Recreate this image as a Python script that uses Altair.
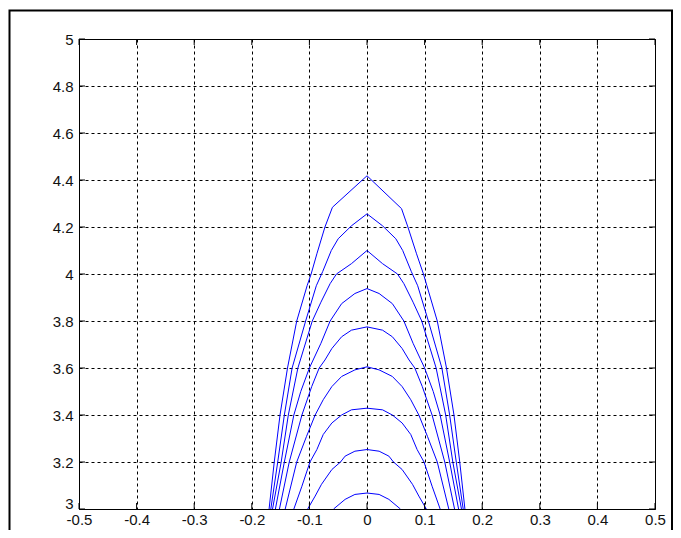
import altair as alt
import pandas as pd

# ---- tick values ----
x_ticks = [-0.5, -0.4, -0.3, -0.2, -0.1, 0.0, 0.1, 0.2, 0.3, 0.4, 0.5]
y_ticks = [3.0, 3.2, 3.4, 3.6, 3.8, 4.0, 4.2, 4.4, 4.6, 4.8, 5.0]

# ---- curves, left to right ----
c1_x = [-0.170, -0.161, -0.151, -0.138, -0.122, -0.104, -0.097, -0.087, -0.073, -0.060, 0.0,
        0.060, 0.071, 0.086, 0.098, 0.104, 0.122, 0.138, 0.151, 0.161, 0.170]
c1_y = [3.0, 3.2, 3.4, 3.6, 3.8, 3.95, 4.0, 4.086, 4.2, 4.284, 4.418,
        4.278, 4.2, 4.086, 4.0, 3.95, 3.8, 3.6, 3.4, 3.2, 3.0]

c2_x = [-0.167, -0.155, -0.1435, -0.130, -0.1065, -0.088, -0.077, -0.062, -0.050, -0.027, 0.0,
        0.027, 0.050, 0.062, 0.077, 0.088, 0.1065, 0.130, 0.1435, 0.155, 0.167]
c2_y = [3.0, 3.2, 3.4, 3.6, 3.8, 3.95, 4.01, 4.10, 4.15, 4.205, 4.256,
        4.205, 4.15, 4.10, 4.01, 3.95, 3.8, 3.6, 3.4, 3.2, 3.0]

c3_x = [-0.164, -0.149, -0.1366, -0.120, -0.095, -0.080, -0.064, -0.053, -0.027, 0.0,
        0.027, 0.053, 0.064, 0.080, 0.095, 0.120, 0.1366, 0.149, 0.164]
c3_y = [3.0, 3.2, 3.4, 3.6, 3.8, 3.88, 3.959, 4.0, 4.044, 4.10,
        4.044, 4.0, 3.959, 3.88, 3.8, 3.6, 3.4, 3.2, 3.0]

c4_x = [-0.159, -0.1435, -0.127, -0.115, -0.100, -0.080, -0.064, -0.044, -0.021, 0.0,
        0.021, 0.044, 0.064, 0.080, 0.100, 0.115, 0.127, 0.1435, 0.159]
c4_y = [3.0, 3.2, 3.4, 3.5, 3.6, 3.705, 3.8, 3.874, 3.917, 3.938,
        3.917, 3.874, 3.8, 3.705, 3.6, 3.5, 3.4, 3.2, 3.0]

c5_x = [-0.152, -0.135, -0.113, -0.096, -0.083, -0.073, -0.061, -0.044, -0.027, 0.0,
        0.027, 0.044, 0.061, 0.073, 0.083, 0.096, 0.113, 0.135, 0.152]
c5_y = [3.0, 3.2, 3.4, 3.521, 3.6, 3.634, 3.683, 3.733, 3.761, 3.775,
        3.761, 3.733, 3.683, 3.634, 3.6, 3.521, 3.4, 3.2, 3.0]

c6_x = [-0.142, -0.122, -0.105, -0.090, -0.076, -0.061, -0.044, -0.021, 0.0,
        0.021, 0.044, 0.061, 0.076, 0.090, 0.105, 0.122, 0.142]
c6_y = [3.0, 3.2, 3.309, 3.4, 3.465, 3.521, 3.564, 3.592, 3.605,
        3.592, 3.564, 3.521, 3.465, 3.4, 3.309, 3.2, 3.0]

c7_x = [-0.127, -0.113, -0.099, -0.087, -0.076, -0.061, -0.044, -0.027, 0.0,
        0.027, 0.044, 0.061, 0.076, 0.087, 0.099, 0.113, 0.127]
c7_y = [3.0, 3.097, 3.2, 3.253, 3.317, 3.366, 3.40, 3.422, 3.429,
        3.422, 3.40, 3.366, 3.317, 3.253, 3.2, 3.097, 3.0]

c8_x = [-0.103, -0.090, -0.079, -0.061, -0.046, -0.038, -0.021, 0.0,
        0.021, 0.038, 0.046, 0.061, 0.079, 0.090, 0.103]
c8_y = [3.0, 3.055, 3.105, 3.168, 3.2, 3.225, 3.246, 3.253,
        3.246, 3.225, 3.2, 3.168, 3.105, 3.055, 3.0]

c9_x = [-0.058, -0.038, -0.021, 0.0, 0.021, 0.038, 0.058]
c9_y = [3.0, 3.041, 3.062, 3.068, 3.062, 3.041, 3.0]

curves = [(c1_x, c1_y), (c2_x, c2_y), (c3_x, c3_y), (c4_x, c4_y), (c5_x, c5_y),
          (c6_x, c6_y), (c7_x, c7_y), (c8_x, c8_y), (c9_x, c9_y)]

rows = []
for i, (xs_, ys_) in enumerate(curves):
    for j, (a, b) in enumerate(zip(xs_, ys_)):
        rows.append({"curve": f"c{i + 1}", "order": j, "x": a, "y": b})
df = pd.DataFrame(rows)

W, H = 576, 470
PAD_L, PAD_T, PAD_R, PAD_B = 71, 31, 18, 21
TL = 6
FONT = "Liberation Sans"
FS = 15

xs = alt.Scale(domain=[-0.5, 0.5], nice=False, zero=False)
ys = alt.Scale(domain=[3, 5], nice=False, zero=False)
lab = "toString(round(datum.value*10)/10)"

x_axis = alt.Axis(values=x_ticks, title=None, grid=True, gridDash=[3, 3], gridColor="black",
                  gridWidth=1, domain=False, ticks=False, tickSize=0, labelExpr=lab,
                  labelFont=FONT, labelFontSize=FS, labelColor="#111", labelPadding=3,
                  labelFlush=False, labelOverlap=False)
y_axis = alt.Axis(values=y_ticks, title=None, grid=True, gridDash=[3, 3], gridColor="black",
                  gridWidth=1, domain=False, ticks=False, tickSize=0, labelExpr=lab,
                  labelFont=FONT, labelFontSize=FS, labelColor="#111", labelPadding=6,
                  labelFlush=False, labelOverlap=False,
                  labelOffset={"condition": {"test": "datum.value == 3", "value": -6}, "value": 0})

lines = alt.Chart(df).mark_line(color="#0000ff", strokeWidth=1, clip=True).encode(
    x=alt.X("x:Q", scale=xs, axis=x_axis),
    y=alt.Y("y:Q", scale=ys, axis=y_axis),
    detail="curve:N",
    order="order:Q",
)

xt = pd.DataFrame({"x": x_ticks})
yt = pd.DataFrame({"y": y_ticks})

tick_bottom = alt.Chart(xt).mark_rule(color="black", strokeWidth=1).encode(
    x=alt.X("x:Q", scale=xs, axis=x_axis), y=alt.value(H), y2=alt.value(H - TL))
tick_top = alt.Chart(xt).mark_rule(color="black", strokeWidth=1).encode(
    x=alt.X("x:Q", scale=xs, axis=x_axis), y=alt.value(0), y2=alt.value(TL))
tick_left = alt.Chart(yt).mark_rule(color="black", strokeWidth=1).encode(
    y=alt.Y("y:Q", scale=ys, axis=y_axis), x=alt.value(0), x2=alt.value(TL))
tick_right = alt.Chart(yt).mark_rule(color="black", strokeWidth=1).encode(
    y=alt.Y("y:Q", scale=ys, axis=y_axis), x=alt.value(W), x2=alt.value(W - TL))

frame = alt.Chart(pd.DataFrame({"a": [0]})).mark_rect(
    filled=False, stroke="black", strokeWidth=2).encode(
    x=alt.value(-69.5), x2=alt.value(593), y=alt.value(-28.5), y2=alt.value(540))

chart = alt.layer(lines, tick_bottom, tick_top, tick_left, tick_right, frame).properties(
    width=W, height=H,
    autosize=alt.AutoSizeParams(type="none"),
    padding={"left": PAD_L, "top": PAD_T, "right": PAD_R, "bottom": PAD_B},
    background="white",
).configure_view(stroke="black", strokeWidth=1)

chart.save("out.html", embed_options={"renderer": "svg", "actions": False})
